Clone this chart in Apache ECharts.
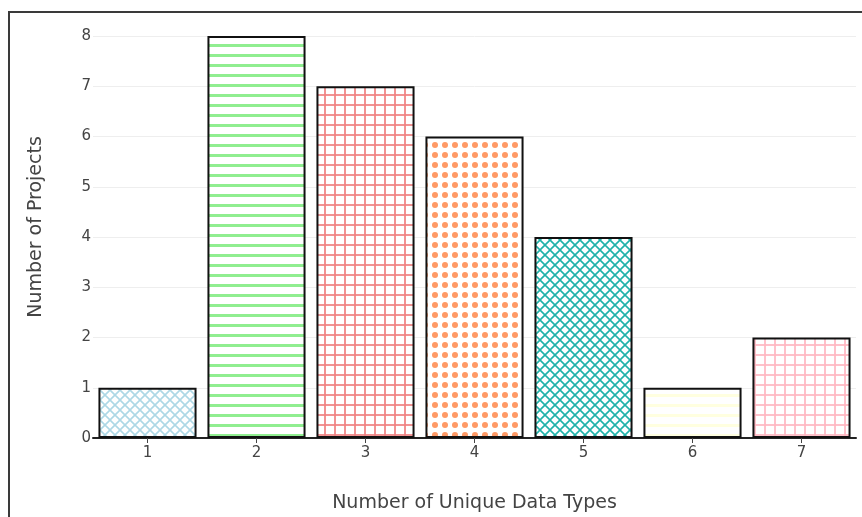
<!DOCTYPE html>
<html>
<head>
<meta charset="utf-8">
<script src="https://cdn.jsdelivr.net/npm/echarts@6/dist/echarts.min.js"></script>
<style>
  html, body { margin: 0; padding: 0; background: #fff; overflow: hidden; }
  #frame { position: absolute; left: 8px; top: 11px; width: 900px; height: 600px;
           border-left: 2px solid #3a3a3a; border-top: 2px solid #3a3a3a; }
  #chart { position: absolute; left: 0; top: 0; width: 862px; height: 517px; }
</style>
</head>
<body>
<div id="frame"></div>
<div id="chart"></div>
<script>
var categories = ['1', '2', '3', '4', '5', '6', '7'];
var projects = [1, 8, 7, 6, 4, 1, 2];
var barColors = ['#add8e6', '#90ee90', '#f08080', '#ff9a66', '#20b2aa', '#ffffe0', '#ffb6c1'];
var barShapes = ['x', '-', '+', '.', 'x', '-', '+'];
var yMax = 8.4; // a bit of headroom above the top tick

// small repeating tiles, like plotly's marker.pattern
function makePattern(shape, color) {
    var size = 10;
    var c = document.createElement('canvas');
    c.width = size;
    c.height = size;
    var ctx = c.getContext('2d');
    ctx.fillStyle = '#fff';
    ctx.fillRect(0, 0, size, size);
    ctx.strokeStyle = color;
    ctx.fillStyle = color;
    if (shape === '-') {
        ctx.fillRect(0, 4, size, 3);
    } else if (shape === '+') {
        ctx.globalAlpha = 0.85;
        ctx.fillRect(0, 4, size, 2);
        ctx.fillRect(4, 0, 2, size);
    } else if (shape === '.') {
        ctx.beginPath();
        ctx.arc(5, 5, 3, 0, Math.PI * 2);
        ctx.fill();
    } else if (shape === 'x') {
        ctx.lineWidth = 1.6;
        ctx.beginPath();
        ctx.moveTo(-1, -1); ctx.lineTo(size + 1, size + 1);
        ctx.moveTo(size + 1, -1); ctx.lineTo(-1, size + 1);
        ctx.stroke();
    }
    return { image: c, repeat: 'repeat' };
}

var chart = echarts.init(document.getElementById('chart'));

var barData = projects.map(function (v, i) {
    return {
        value: v,
        itemStyle: { color: makePattern(barShapes[i], barColors[i]) }
    };
});

var option = {
    animation: false,
    textStyle: { fontFamily: 'DejaVu Sans' },
    grid: { left: 93, right: 6, top: 16, bottom: 79, outerBoundsMode: 'none' },
    xAxis: {
        type: 'category',
        data: categories,
        name: 'Number of Unique Data Types',
        nameLocation: 'middle',
        nameGap: 56,
        nameTextStyle: { fontSize: 19, color: '#444' },
        axisLine: { lineStyle: { color: '#222', width: 2 } },
        axisTick: { show: true, alignWithLabel: true, length: 5, lineStyle: { color: '#444' } },
        axisLabel: { fontSize: 15, color: '#444', margin: 8 }
    },
    yAxis: {
        type: 'value',
        min: 0,
        max: yMax,
        interval: 1,
        name: 'Number of Projects',
        nameLocation: 'middle',
        nameGap: 47,
        nameTextStyle: { fontSize: 19, color: '#444' },
        axisLine: { show: false },
        axisTick: { show: false },
        axisLabel: {
            fontSize: 15, color: '#444', margin: 2, showMaxLabel: false,
            formatter: function (v) { return v % 1 === 0 ? String(v) : ''; }
        },
        splitLine: { showMaxLine: false, lineStyle: { color: '#eeeeee', width: 1 } }
    },
    series: [{
        type: 'bar',
        data: barData,
        barCategoryGap: '10%',
        itemStyle: { borderColor: '#111', borderWidth: 2 }
    }]
};

chart.setOption(option);
</script>
</body>
</html>
